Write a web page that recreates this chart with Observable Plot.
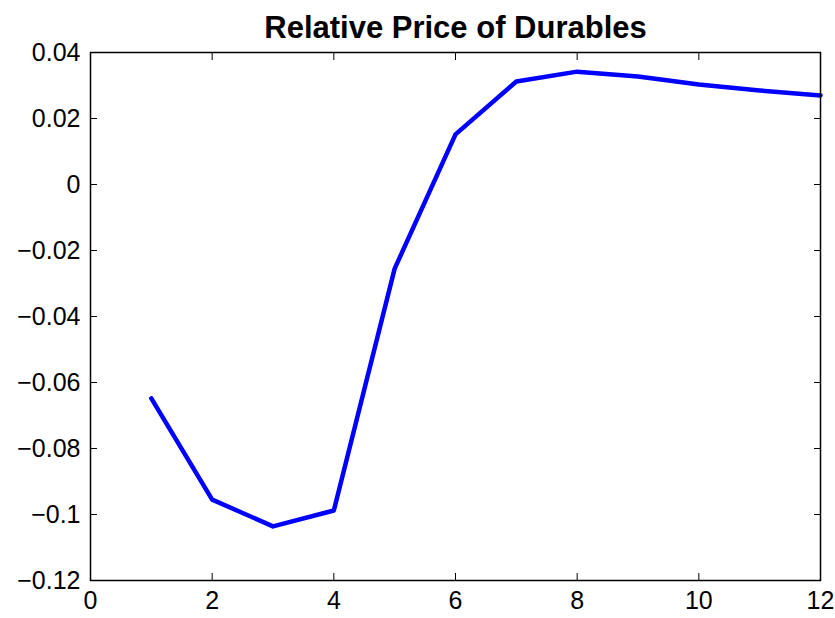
<!DOCTYPE html>
<html><head><meta charset="utf-8">
<script src="https://cdn.jsdelivr.net/npm/d3@7"></script>
<script src="https://cdn.jsdelivr.net/npm/@observablehq/plot@0.6"></script>
<style>body{margin:0;background:#fff;overflow:hidden;} svg{overflow:visible;}</style>
</head><body><div id="chart"></div>
<script>
const horizons = [1, 2, 3, 4, 5, 6, 7, 8, 9, 10, 11, 12];
const price = [-0.0648, -0.0955, -0.1036, -0.0988, -0.0255, 0.0152, 0.0312, 0.0342, 0.0327, 0.0303, 0.0285, 0.0270];
const xTicks = [0, 2, 4, 6, 8, 10, 12];
const yTicks = [0.04, 0.02, 0, -0.02, -0.04, -0.06, -0.08, -0.1, -0.12];
const title = "Relative Price of Durables";

const data = horizons.map((h, i) => ({h, v: price[i]}));
const fmtY = d => d === 0 ? "0" : d3.format("~g")(d);

const chart = Plot.plot({
  width: 835, height: 618,
  marginLeft: 90, marginRight: 15, marginTop: 52, marginBottom: 38,
  style: {fontFamily: "'Liberation Sans', Arial, sans-serif", background: "#fff", color: "#000"},
  x: {domain: [0, 12]},
  y: {domain: [-0.12, 0.04]},
  marks: [
    Plot.line(data, {x: "h", y: "v", stroke: "#0000ff", strokeWidth: 4.5}),
    Plot.frame({stroke: "#000", strokeWidth: 1.5}),
    Plot.axisX(xTicks, {anchor: "bottom", tickSize: 0, tickPadding: 11, fontSize: 25, tickFormat: d => String(d), label: null}),
    Plot.axisX(xTicks, {anchor: "bottom", tickSize: -7, text: null, label: null}),
    Plot.axisX(xTicks, {anchor: "top", tickSize: -7, text: null, label: null}),
    Plot.axisY(yTicks, {anchor: "left", tickSize: 0, tickPadding: 10, fontSize: 25, tickFormat: fmtY, label: null}),
    Plot.axisY(yTicks, {anchor: "left", tickSize: -7, text: null, label: null}),
    Plot.axisY(yTicks, {anchor: "right", tickSize: -7, text: null, label: null}),
    Plot.text([title], {frameAnchor: "top", dy: -15, lineAnchor: "bottom", fontSize: 31, fontWeight: "bold"})
  ]
});
document.getElementById("chart").appendChild(chart);
</script>
</body></html>
